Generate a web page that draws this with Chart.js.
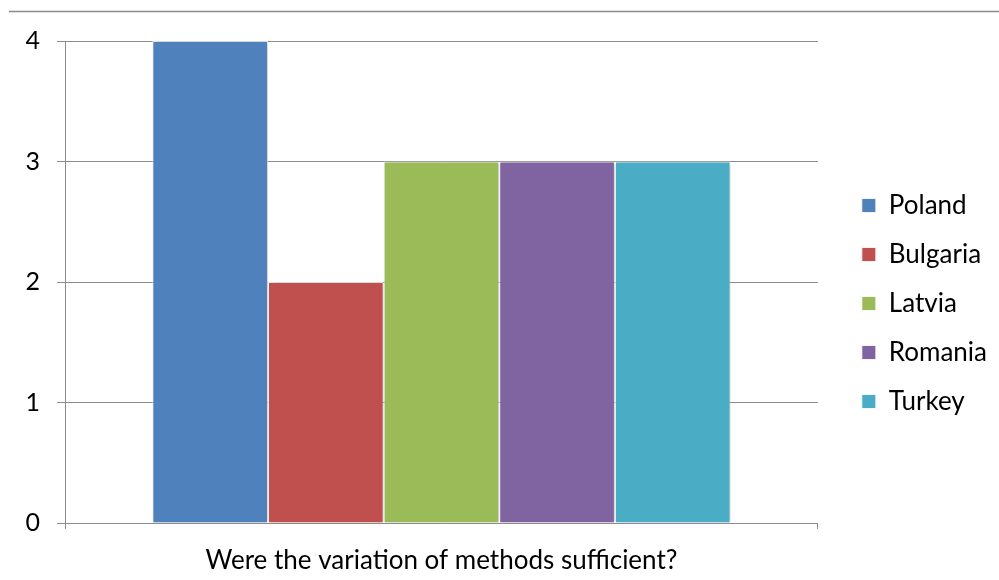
<!DOCTYPE html>
<html>
<head>
<meta charset="utf-8">
<title>Were the variation of methods sufficient?</title>
<script src="https://cdn.jsdelivr.net/npm/chart.js@4/dist/chart.umd.min.js"></script>
<style>
  html, body { margin: 0; padding: 0; background: #ffffff; }
  #wrap { position: relative; width: 999px; height: 580px; }
</style>
</head>
<body>
<div id="wrap"><canvas id="chart" width="999" height="580"></canvas></div>
<script>
// Survey question (single category) and answers per country
const categories = ['Were the variation of methods sufficient?'];
const countries = ['Poland', 'Bulgaria', 'Latvia', 'Romania', 'Turkey'];
const scores = [4, 2, 3, 3, 3];
const colors = ['#4F81BD', '#C0504D', '#9BBB59', '#8064A2', '#4BACC6'];
const yTicks = [0, 1, 2, 3, 4];

const FONT = 'Lato, "Open Sans", "DejaVu Sans", sans-serif';
const GRID = '#8c8c8c';

const datasets = countries.map((name, i) => ({
  label: name,
  data: [scores[i]],
  backgroundColor: colors[i],
  borderColor: 'rgba(255,255,255,0.85)',
  borderWidth: 1,
  barPercentage: 1,
  categoryPercentage: 0.768
}));

// Soft drop shadow behind the bars
const barShadow = {
  id: 'barShadow',
  beforeDatasetsDraw(chart) {
    const ctx = chart.ctx;
    ctx.save();
    ctx.shadowColor = 'rgba(0,0,0,0.22)';
    ctx.shadowBlur = 5;
    ctx.shadowOffsetX = 2;
    ctx.shadowOffsetY = 0;
  },
  afterDatasetsDraw(chart) {
    chart.ctx.restore();
  }
};

// Thin rule across the top of the figure
const topRule = {
  id: 'topRule',
  beforeDraw(chart) {
    const ctx = chart.ctx;
    ctx.save();
    ctx.strokeStyle = '#8c8c8c';
    ctx.lineWidth = 1.5;
    ctx.beginPath();
    ctx.moveTo(9, 11.5);
    ctx.lineTo(999, 11.5);
    ctx.stroke();
    ctx.restore();
  }
};

new Chart(document.getElementById('chart'), {
  type: 'bar',
  data: { labels: categories, datasets },
  options: {
    responsive: false,
    animation: false,
    layout: { padding: { top: 27, left: 0, right: 2, bottom: 0 } },
    plugins: {
      tooltip: { enabled: false },
      legend: {
        position: 'right',
        labels: {
          color: '#000',
          font: { family: FONT, size: 26 },
          boxWidth: 14,
          boxHeight: 14,
          padding: 23
        }
      }
    },
    scales: {
      x: {
        offset: true,
        afterFit(scale) { scale.height = 57; },
        grid: {
          display: true,
          drawOnChartArea: false,
          color: GRID,
          tickLength: 6,
          offset: true
        },
        border: { color: GRID, width: 1 },
        ticks: {
          color: '#000',
          font: { family: FONT, size: 26 },
          padding: 16
        }
      },
      // empty band above the plot
      headroom: {
        position: 'top',
        display: true,
        grid: { display: false },
        border: { display: false },
        ticks: { display: false },
        afterFit(scale) { scale.height = 14; }
      },
      y: {
        min: 0,
        max: 4,
        afterBuildTicks(scale) {
          scale.ticks = yTicks.map(v => ({ value: v }));
        },
        afterFit(scale) { scale.width = 65; },
        grid: { color: GRID, tickLength: 8 },
        border: { color: GRID, width: 1 },
        ticks: {
          color: '#000',
          font: { family: FONT, size: 25 },
          padding: 17
        }
      },
      // empty spacer between the plot and the legend
      gap: {
        position: 'right',
        display: true,
        grid: { display: false },
        border: { display: false },
        ticks: { display: false },
        afterFit(scale) { scale.width = 21; }
      }
    }
  },
  plugins: [barShadow, topRule]
});
</script>
</body>
</html>
